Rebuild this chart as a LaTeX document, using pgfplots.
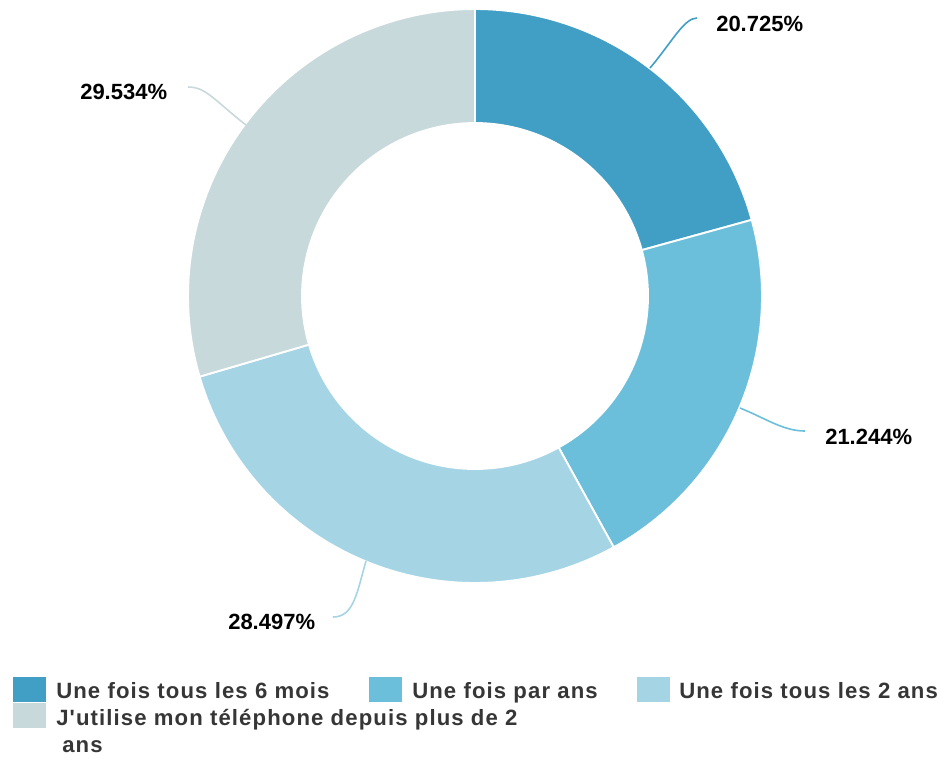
\documentclass[border=0pt]{standalone}
\usepackage{fontspec}
\setmainfont{Liberation Sans}
\usepackage{pgfplots}
\usepackage{pgfplotstable}
\pgfplotsset{compat=1.18}
\definecolor{cA}{HTML}{419EC4}
\definecolor{cB}{HTML}{6BBFDB}
\definecolor{cC}{HTML}{A5D5E5}
\definecolor{cD}{HTML}{C8D9DC}
\definecolor{legtxt}{HTML}{363636}

\pgfplotstableread{
share
20.725
21.244
28.497
29.534
}\shares

% sector: #1 colour, #2 start angle, #3 end angle
\newcommand\sector[3]{%
\addplot[fill=#1, domain=0:2, samples=121, variable=\t]
 ({\cx+ifthenelse(\t<1.005,\Ro,\Ri)*cos(ifthenelse(\t<1.005,#2+(#3-#2)*min(\t,1),#3-(#3-#2)*max(\t-1-1/60,0)*60/59))},
  {\cy-ifthenelse(\t<1.005,\Ro,\Ri)*sin(ifthenelse(\t<1.005,#2+(#3-#2)*min(\t,1),#3-(#3-#2)*max(\t-1-1/60,0)*60/59))}) -- cycle;
}

\begin{document}
\begin{tikzpicture}
\pgfplotstablegetelem{0}{share}\of\shares \let\sA\pgfplotsretval
\pgfplotstablegetelem{1}{share}\of\shares \let\sB\pgfplotsretval
\pgfplotstablegetelem{2}{share}\of\shares \let\sC\pgfplotsretval
\pgfplotstablegetelem{3}{share}\of\shares \let\sD\pgfplotsretval
\pgfmathsetmacro\aA{90}
\pgfmathsetmacro\aB{\aA-3.6*\sA}
\pgfmathsetmacro\aC{\aB-3.6*\sB}
\pgfmathsetmacro\aD{\aC-3.6*\sC}
\pgfmathsetmacro\aE{\aD-3.6*\sD}
\def\cx{475}\def\cy{296}\def\Ro{287}\def\Ri{173}
\begin{axis}[
  x=0.75pt, y=0.75pt, y dir=reverse,
  xmin=0, xmax=944, ymin=0, ymax=758,
  scale only axis, hide axis, clip=false,
  every axis plot/.append style={draw=white, line width=1.4pt, line join=miter},
]
\path (axis cs:0,0) rectangle (axis cs:944,758);
% sectors
\sector{cA}{\aA}{\aB}
\sector{cB}{\aB}{\aC}
\sector{cC}{\aC}{\aD}
\sector{cD}{\aD}{\aE}

% leader lines
\draw[cA, line width=1.2pt] (axis cs:650,68) .. controls (axis cs:672,42) and (axis cs:684,18) .. (axis cs:697,18);
\draw[cB, line width=1.2pt] (axis cs:740,408) .. controls (axis cs:765,418) and (axis cs:783,431) .. (axis cs:805,431);
\draw[cC, line width=1.2pt] (axis cs:366,561) .. controls (axis cs:357,592) and (axis cs:354,617) .. (axis cs:333,617);
\draw[cD, line width=1.2pt] (axis cs:246,125) .. controls (axis cs:214,100) and (axis cs:206,87) .. (axis cs:188,87);

% value labels
\begin{scope}[every node/.style={font=\fontsize{16.5}{19.8}\selectfont\bfseries, inner sep=0pt, text=black}]
\node[anchor=west] at (axis cs:716,24) {20.725\%};
\node[anchor=west] at (axis cs:825,437) {21.244\%};
\node[anchor=west] at (axis cs:228,622) {28.497\%};
\node[anchor=west] at (axis cs:80,92) {29.534\%};
\end{scope}

% legend
\fill[cA] (axis cs:13,677) rectangle (axis cs:46,702);
\fill[cB] (axis cs:369,677) rectangle (axis cs:402,702);
\fill[cC] (axis cs:637,677) rectangle (axis cs:670,702);
\fill[cD] (axis cs:13,703) rectangle (axis cs:46,728);
\begin{scope}[every node/.style={font=\fontsize{16.6}{19.8}\selectfont\bfseries\addfontfeatures{LetterSpace=5, Ligatures=TeXOff}, inner sep=0pt, text=legtxt, anchor=base west}]
\node at (axis cs:56,698) {Une fois tous les 6 mois};
\node at (axis cs:412,698) {Une fois par ans};
\node at (axis cs:679,698) {Une fois tous les 2 ans};
\node at (axis cs:56,725.5) {J'utilise mon téléphone depuis plus de 2};
\node at (axis cs:62,752) {ans};
\end{scope}
\end{axis}
\end{tikzpicture}
\end{document}
